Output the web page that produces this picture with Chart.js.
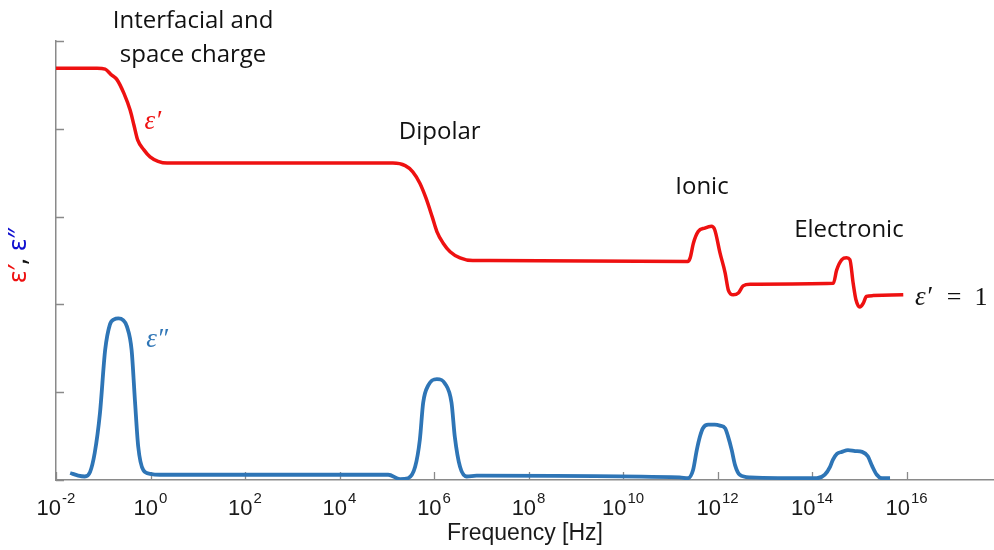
<!DOCTYPE html>
<html>
<head>
<meta charset="utf-8">
<script src="https://cdn.jsdelivr.net/npm/chart.js@4.4.1/dist/chart.umd.min.js"></script>
<style>
  html, body { margin: 0; padding: 0; background: #fff; }
</style>
</head>
<body>
<canvas id="dielectricChart" width="994" height="550"></canvas>
<script>
// real part: log10(f / Hz) and eps'
const realLogF = [-2.00, -1.13, -0.96, -0.84, -0.71, -0.56, -0.43, -0.35, -0.27, -0.14, -0.01, 0.16, 0.35, 0.84,
  5.13, 5.39, 5.55, 5.70, 5.83, 5.96, 6.06, 6.19, 6.34, 6.55, 6.82, 7.18,
  11.37, 11.42, 11.49, 11.59, 11.73, 11.87, 11.94, 12.05, 12.16, 12.23, 12.33, 12.44, 12.54, 12.69,
  14.45, 14.52, 14.63, 14.73, 14.80, 14.87, 14.93, 15.01, 15.08, 15.15, 15.29, 15.93];
const realEps = [4.69, 4.69, 4.68, 4.62, 4.56, 4.40, 4.21, 4.04, 3.87, 3.76, 3.68, 3.63, 3.61, 3.61,
  3.61, 3.58, 3.51, 3.38, 3.21, 3.00, 2.83, 2.70, 2.60, 2.53, 2.50, 2.50,
  2.49, 2.53, 2.70, 2.83, 2.87, 2.89, 2.85, 2.59, 2.36, 2.16, 2.11, 2.13, 2.21, 2.23,
  2.24, 2.39, 2.51, 2.53, 2.51, 2.24, 2.05, 1.97, 2.01, 2.09, 2.10, 2.11];

// loss part: log10(f / Hz) and eps''
const lossLogF = [-1.70, -1.53, -1.39, -1.28, -1.18, -1.07, -0.96, -0.86, -0.77, -0.68, -0.58, -0.50, -0.40, -0.33, -0.26, -0.15, -0.01, 0.20,
  5.03, 5.28, 5.45, 5.60, 5.70, 5.77, 5.88, 6.06, 6.23, 6.37, 6.44, 6.55, 6.69, 6.90,
  11.20, 11.37, 11.48, 11.56, 11.63, 11.69, 11.80, 11.94, 12.05, 12.16, 12.22, 12.30, 12.37, 12.47, 12.69,
  14.10, 14.27, 14.38, 14.44, 14.53, 14.63, 14.76, 14.91, 15.06, 15.18, 15.27, 15.37, 15.48, 15.65];
const lossEps = [0.08, 0.05, 0.04, 0.09, 0.31, 0.76, 1.48, 1.77, 1.83, 1.84, 1.82, 1.75, 1.48, 0.91, 0.38, 0.11, 0.07, 0.06,
  0.06, 0.01, 0.02, 0.15, 0.46, 0.88, 1.08, 1.15, 1.10, 0.88, 0.49, 0.15, 0.04, 0.05,
  0.03, 0.02, 0.11, 0.34, 0.50, 0.59, 0.63, 0.63, 0.62, 0.59, 0.50, 0.34, 0.17, 0.06, 0.03,
  0.02, 0.06, 0.15, 0.23, 0.30, 0.32, 0.34, 0.33, 0.32, 0.27, 0.16, 0.06, 0.02, 0.02];

const tickExponents = [-2, 0, 2, 4, 6, 8, 10, 12, 14, 16];
const yTickValues = [0, 1, 2, 3, 4, 5];

const RED = '#ee1111';
const BLUE = '#2e75b6';
const AXIS = '#8a8a8a';
const SANS = '"Liberation Sans", Arial, sans-serif';

const toPoints = (lg, vals) => lg.map((e, i) => ({ x: Math.pow(10, e), y: vals[i] }));

// text placed in data coordinates (log10 f, value)
const notes = [
  { text: 'Interfacial and', lg: 0.90, v: 5.23, font: '24px "Open Sans"', color: '#111' },
  { text: 'space charge', lg: 0.90, v: 4.84, font: '24px "Open Sans"', color: '#111' },
  { text: 'Dipolar', lg: 6.12, v: 3.96, font: '24px "Open Sans"', color: '#111' },
  { text: 'Ionic', lg: 11.67, v: 3.33, font: '24px "Open Sans"', color: '#111' },
  { text: 'Electronic', lg: 14.78, v: 2.85, font: '24px "Open Sans"', color: '#111' },
  { text: '\u03B5\u2032', lg: 0.05, v: 4.08, font: 'italic 27px "Liberation Serif"', color: RED },
  { text: '\u03B5\u2033', lg: 0.14, v: 1.60, font: 'italic 27px "Liberation Serif"', color: BLUE },
  { text: '\u03B5\u2032', lg: 16.18, v: 2.07, font: 'italic 27px "Liberation Serif"', color: '#111', align: 'left' },
  { text: '=  1', lg: 16.85, v: 2.07, font: '26px "Liberation Serif"', color: '#111', align: 'left' }
];

// ticks pointing into the plot, like the original axes
const inwardTicks = {
  id: 'inwardTicks',
  beforeDatasetsDraw(chart) {
    const { ctx, chartArea, scales } = chart;
    ctx.save();
    ctx.strokeStyle = AXIS;
    ctx.lineWidth = 1.3;
    ctx.beginPath();
    scales.x.ticks.forEach(t => {
      const px = Math.round(scales.x.getPixelForValue(t.value)) + 0.5;
      ctx.moveTo(px, chartArea.bottom);
      ctx.lineTo(px, chartArea.bottom - 8);
    });
    scales.y.ticks.forEach(t => {
      const py = Math.round(scales.y.getPixelForValue(t.value)) + 0.5;
      ctx.moveTo(chartArea.left, py);
      ctx.lineTo(chartArea.left + 8, py);
    });
    ctx.stroke();
    ctx.restore();
  }
};

// "10" with a raised exponent under each x tick
const powerTicks = {
  id: 'powerTicks',
  afterDraw(chart) {
    const { ctx, chartArea, scales } = chart;
    const base = chartArea.bottom + 35;
    ctx.save();
    ctx.fillStyle = '#1a1a1a';
    ctx.textAlign = 'left';
    ctx.textBaseline = 'alphabetic';
    scales.x.ticks.forEach(t => {
      const exp = String(Math.round(Math.log10(t.value)));
      ctx.font = '22px ' + SANS;
      const w1 = ctx.measureText('10').width;
      ctx.font = '15px ' + SANS;
      const w2 = ctx.measureText(exp).width;
      const x0 = scales.x.getPixelForValue(t.value) - (w1 + w2 + 1) / 2;
      ctx.font = '22px ' + SANS;
      ctx.fillText('10', x0, base);
      ctx.font = '15px ' + SANS;
      ctx.fillText(exp, x0 + w1 + 1, base - 12);
    });
    ctx.restore();
  }
};

const labelsPlugin = {
  id: 'labels',
  afterDraw(chart) {
    const { ctx, chartArea, scales } = chart;
    ctx.save();
    ctx.textBaseline = 'middle';
    notes.forEach(n => {
      ctx.font = n.font;
      ctx.fillStyle = n.color;
      ctx.textAlign = n.align || 'center';
      ctx.fillText(n.text, scales.x.getPixelForValue(Math.pow(10, n.lg)), scales.y.getPixelForValue(n.v));
    });

    // two-colour y axis title
    const parts = [['\u03B5\u2032', RED], [', ', '#111'], ['\u03B5\u2033', '#1010d0']];
    ctx.font = '26px "Noto Sans"';
    const total = parts.reduce((s, p) => s + ctx.measureText(p[0]).width, 0);
    ctx.translate(chartArea.left - 37, (chartArea.top + chartArea.bottom) / 2 - 5);
    ctx.rotate(-Math.PI / 2);
    ctx.textAlign = 'left';
    let x = -total / 2;
    parts.forEach(([t, c]) => {
      ctx.fillStyle = c;
      ctx.fillText(t, x, 0);
      x += ctx.measureText(t).width;
    });
    ctx.restore();
  }
};

new Chart(document.getElementById('dielectricChart'), {
  type: 'line',
  data: {
    datasets: [
      { data: toPoints(realLogF, realEps), borderColor: RED, borderWidth: 3.5, pointRadius: 0, cubicInterpolationMode: 'monotone' },
      { data: toPoints(lossLogF, lossEps), borderColor: BLUE, borderWidth: 3.8, pointRadius: 0, cubicInterpolationMode: 'monotone' }
    ]
  },
  options: {
    responsive: false,
    animation: false,
    layout: { padding: { top: 41, right: 0, left: 0, bottom: 0 } },
    plugins: { legend: { display: false }, tooltip: { enabled: false } },
    scales: {
      x: {
        type: 'logarithmic',
        min: 1e-2,
        max: Math.pow(10, 17.85),
        afterBuildTicks: s => { s.ticks = tickExponents.map(e => ({ value: Math.pow(10, e) })); },
        afterFit: s => { s.height = 70; },
        grid: { display: true, drawOnChartArea: false, drawTicks: false },
        border: { display: true, color: AXIS, width: 1.5 },
        ticks: { callback: () => '', autoSkip: false, maxRotation: 0 },
        title: {
          display: true,
          text: 'Frequency [Hz]',
          color: '#1a1a1a',
          font: { family: SANS, size: 23 },
          padding: { top: 0, bottom: 3 }
        }
      },
      y: {
        min: 0,
        max: 5,
        afterBuildTicks: s => { s.ticks = yTickValues.map(v => ({ value: v })); },
        afterFit: s => { s.width = 56; },
        grid: { display: true, drawOnChartArea: false, drawTicks: false },
        border: { display: true, color: AXIS, width: 1.5 },
        ticks: { display: false }
      }
    }
  },
  plugins: [inwardTicks, powerTicks, labelsPlugin]
});
</script>
</body>
</html>
